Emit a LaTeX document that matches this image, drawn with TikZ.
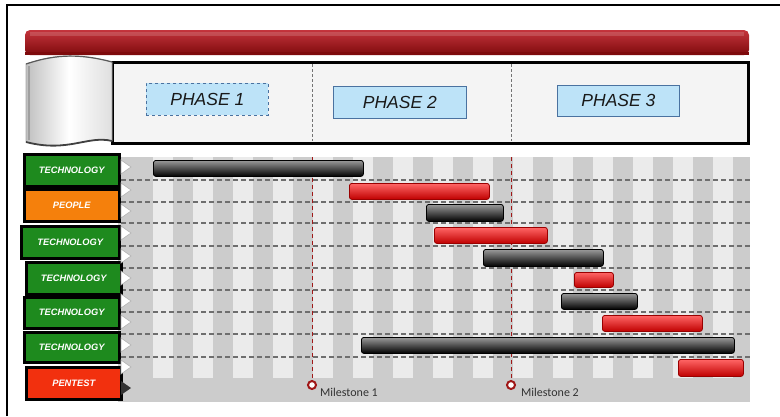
\documentclass[tikz,border=0pt]{standalone}
\usepackage{fontspec}
\setmainfont{Liberation Sans}
\newfontfamily\calfont{Carlito}
\definecolor{chartgray}{HTML}{CCCCCC}
\definecolor{stripe}{HTML}{EBEBEB}
\definecolor{gridline}{HTML}{6E6E6E}
\definecolor{msred}{HTML}{A01818}
\definecolor{tgreen}{HTML}{1E8A1E}
\definecolor{porange}{HTML}{F5800C}
\definecolor{pred}{HTML}{F2300E}
\definecolor{phasefill}{HTML}{BDE3F8}
\definecolor{phaseedge}{HTML}{4A72A0}
\definecolor{boxfill}{HTML}{F4F4F4}
\definecolor{hdrtop}{HTML}{C4343C}
\definecolor{hdrmid}{HTML}{A01418}
\definecolor{hdrbot}{HTML}{7E0A0C}
\begin{document}
\begin{tikzpicture}[x=1pt,y=-1pt,
  lbl/.style={draw=black, line width=2.5pt, text=white, inner sep=0pt, anchor=north west,
    font=\bfseries\itshape\fontsize{9.3}{11}\selectfont},
  phase/.style={fill=phasefill, draw=phaseedge, line width=0.8pt, inner sep=0pt, anchor=north west,
    font=\itshape\fontsize{17.5}{20}\selectfont, text=black!90},
  blackbar/.style={draw=black, line width=0.8pt, rounded corners=2.5pt, inner sep=0pt, anchor=north west,
    top color=black!40, middle color=black!65, bottom color=black},
  redbar/.style={draw=red!60!black, line width=0.8pt, rounded corners=2.5pt, inner sep=0pt, anchor=north west,
    top color=red!60!white, middle color=red!92!black, bottom color=red!75!black},
  grid/.style={draw=gridline, line width=1.1pt, dash pattern=on 5pt off 3pt},
  msline/.style={draw=msred, line width=1pt, dash pattern=on 4pt off 3pt},
  msdot/.style={circle, draw=msred, line width=2pt, fill=white, inner sep=0pt, minimum size=8pt},
  mstext/.style={anchor=west, inner sep=0pt, font=\calfont\fontsize{12}{14}\selectfont, text=black!80},
  divider/.style={draw=gray!90!black, line width=0.9pt, dash pattern=on 3pt off 2pt}
]
\useasboundingbox (0,0) rectangle (780,416);
% outer frame
\draw[line width=1.5pt] (7,416) -- (7,5) -- (780,5);
% header bar
\shade[top color=hdrtop, middle color=hdrmid, bottom color=hdrbot, rounded corners=5pt]
  (25,30) rectangle (749,55);
\fill[hdrbot] (25,52) rectangle (749,55);
\fill[white, opacity=0.15] (30,32) rectangle (744,36);
% phase box
\draw[line width=3pt, fill=boxfill] (112,62) rectangle (748,143);
\coordinate (d1t) at (312,64); \coordinate (d1b) at (312,141);
\coordinate (d2t) at (511,64); \coordinate (d2b) at (511,141);
\draw[divider] (d1t) -- (d1b);
\draw[divider] (d2t) -- (d2b);
% flag
\shade[left color=gray!50, right color=gray!25, middle color=white, draw=gray!70, line width=0.6pt]
  (26,64) .. controls (50,56) and (75,52) .. (112,62) -- (112,141)
  .. controls (88,135) and (68,153) .. (26,142) -- cycle;
\draw[black!75, line width=1.8pt] (112,141) .. controls (88,135) and (68,153) .. (26,142);
\draw[black!65, line width=1.2pt] (26,64) .. controls (50,56) and (75,52) .. (112,62);
\draw[gray!75, line width=2pt] (29,66) -- (29,140);
% phase labels
\node[phase, dashed, minimum width=122pt, minimum height=32pt] (p1) at (146,83) {PHASE 1};
\node[phase, minimum width=133pt, minimum height=32pt] (p2) at (333,86) {PHASE 2};
\node[phase, minimum width=122pt, minimum height=31pt] (p3) at (557,85) {PHASE 3};
% chart background
\fill[chartgray] (118,157) rectangle (750,402);
\foreach \k in {0,...,14} {
  \fill[stripe] ({153+40*\k},157) rectangle ({173+40*\k},378);
}
\foreach \y in {180,202,223,246,268,290,312,334,357} {
  \draw[grid] (121,\y) -- (750,\y);
}
% milestones
\coordinate (m1t) at (312,157);
\coordinate (m2t) at (511,157);
\node[msdot] (ms1) at (312,385) {};
\node[msdot] (ms2) at (511,385) {};
\draw[msline] (m1t) -- (ms1);
\draw[msline] (m2t) -- (ms2);
\node[mstext] (ml1) at (320,392) {Milestone 1};
\node[mstext] (ml2) at (521,392) {Milestone 2};
% row labels
\node[lbl, fill=tgreen, minimum width=95pt, minimum height=32pt] (r1) at (23,153) {TECHNOLOGY};
\node[lbl, fill=porange, minimum width=95pt, minimum height=32pt] (r2) at (23,188) {PEOPLE};
\node[lbl, fill=tgreen, minimum width=98pt, minimum height=32pt] (r3) at (20,225) {TECHNOLOGY};
\node[lbl, fill=tgreen, minimum width=95pt, minimum height=32pt] (r4) at (25,261) {TECHNOLOGY};
\node[lbl, fill=tgreen, minimum width=95pt, minimum height=31pt] (r5) at (23,296) {TECHNOLOGY};
\node[lbl, fill=tgreen, minimum width=95pt, minimum height=30pt] (r6) at (23,331) {TECHNOLOGY};
\node[lbl, fill=pred, minimum width=95pt, minimum height=32pt] (r7) at (25,366) {PENTEST};
% chevrons
\foreach \y in {167,190,211,233,256,278,301,322,345,367} {
  \filldraw[fill=white, draw=gray!60, line width=0.6pt] (121,{\y-7}) -- (131,\y) -- (121,{\y+7}) -- cycle;
}
\fill[black!80] (121,381) -- (131,388) -- (121,395) -- cycle;
% bars
\node[blackbar, minimum width=210pt, minimum height=16pt] (b1) at (153,160) {};
\node[redbar, minimum width=140pt, minimum height=16pt] (b2) at (349,183) {};
\node[blackbar, minimum width=77pt, minimum height=17pt] (b3) at (426,204) {};
\node[redbar, minimum width=113pt, minimum height=16pt] (b4) at (434,227) {};
\node[blackbar, minimum width=120pt, minimum height=17pt] (b5) at (483,249) {};
\node[redbar, minimum width=39pt, minimum height=15pt] (b6) at (574,272) {};
\node[blackbar, minimum width=76pt, minimum height=16pt] (b7) at (561,293) {};
\node[redbar, minimum width=100pt, minimum height=16pt] (b8) at (602,315) {};
\node[blackbar, minimum width=373pt, minimum height=16pt] (b9) at (361,337) {};
\node[redbar, minimum width=65pt, minimum height=17pt] (b10) at (678,359) {};
\end{tikzpicture}
\end{document}
